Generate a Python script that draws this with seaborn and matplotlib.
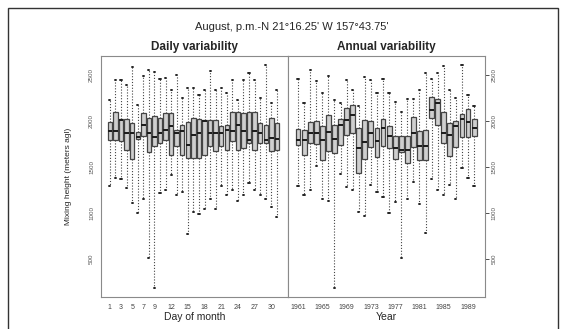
# Mixing height boxplots: daily and annual variability (August, p.m.)

import numpy as np
import pandas as pd
import matplotlib as mpl
mpl.use("Agg")
import matplotlib.pyplot as plt
from matplotlib.patches import Rectangle
import seaborn as sns

# 日ごとの統計量 (min, q1, median, q3, max) [m]
days = list(range(1, 32))
day_min = [1293, 1384, 1366, 1276, 1113, 1000, 1150, 511, 186, 1214, 1250, 1409, 1200, 1229, 771,
           1008, 987, 1041, 1150, 1041, 1290, 1200, 1250, 1131, 1200, 1330, 1250, 1200, 1150, 1063, 954]
day_q1 = [1798, 1798, 1780, 1690, 1590, 1800, 1842, 1661, 1726, 1762, 1798, 1636, 1726, 1636, 1600,
          1600, 1600, 1636, 1726, 1672, 1726, 1690, 1780, 1690, 1710, 1762, 1690, 1762, 1762, 1672, 1690]
day_med = [1888, 1888, 2010, 1870, 1870, 1830, 1961, 1870, 1830, 1870, 1900, 1943, 1870, 1888, 1744,
           1850, 1870, 2005, 1870, 1870, 1870, 1900, 1888, 1961, 1888, 1798, 1888, 1870, 1798, 1820, 1800]
day_q3 = [1986, 2094, 2022, 2022, 1979, 1880, 2087, 2033, 2060, 2033, 2087, 2087, 1907, 1961, 1986,
          2033, 2022, 2015, 2015, 2015, 1943, 1961, 2094, 2094, 2087, 2094, 2094, 1979, 1961, 2033, 1979]
day_max = [2231, 2448, 2448, 2394, 2588, 2177, 2491, 2556, 2534, 2458, 2469, 2339, 2502, 2253, 2361,
           2361, 2285, 2339, 2545, 2339, 2361, 2307, 2448, 2231, 2448, 2523, 2448, 2253, 2610, 2199, 2339]
day_labels = ["1", "3", "5", "7", "9", "12", "15", "18", "21", "24", "27", "30"]

# 年ごとの統計量 (1961-1990)
years = list(range(1961, 1991))
yr_min = [1293, 1200, 1250, 1517, 1150, 1131, 186, 1430, 1280, 1250, 1008, 965, 1311, 1225, 1180,
          998, 1117, 511, 1150, 1333, 1100, 781, 1366, 1250, 1200, 1301, 1150, 1495, 1387, 1300]
yr_q1 = [1744, 1636, 1762, 1755, 1582, 1672, 1654, 1744, 1852, 1870, 1438, 1590, 1719, 1611, 1726,
         1708, 1590, 1661, 1546, 1719, 1582, 1582, 2033, 1961, 1762, 1618, 1719, 1827, 1827, 1834]
yr_med = [1798, 1798, 1870, 1870, 1798, 1877, 1806, 1961, 2015, 2069, 1708, 1769, 1870, 1780, 1925,
          1834, 1708, 1690, 1690, 1870, 1726, 1733, 2123, 2200, 1870, 1852, 1943, 2022, 1986, 1925]
yr_q3 = [1914, 1907, 1986, 2001, 1943, 2069, 1961, 2022, 2141, 2177, 1925, 2015, 2001, 1925, 2022,
         1950, 1834, 1842, 1834, 2044, 1888, 1907, 2267, 2239, 2094, 1979, 2001, 2080, 2130, 2022]
yr_max = [2455, 2195, 2556, 2440, 2303, 2491, 2231, 2195, 2448, 2339, 2159, 2477, 2448, 2303, 2455,
          2303, 2202, 2094, 2239, 2239, 2339, 2523, 2455, 2523, 2599, 2340, 2250, 2610, 2285, 2159]
year_labels = ["1961", "1965", "1969", "1973", "1977", "1981", "1985", "1989"]

y_ticks = [500, 1000, 1500, 2000, 2500]


def long_table(keys, mins, q1s, meds, q3s, maxs, name):
    rows = []
    for k, a, b, c, d, e in zip(keys, mins, q1s, meds, q3s, maxs):
        for v in (a, b, c, d, e):
            rows.append((str(k), v))
    return pd.DataFrame(rows, columns=[name, "height"])


df_day = long_table(days, day_min, day_q1, day_med, day_q3, day_max, "day")
df_year = long_table(years, yr_min, yr_q1, yr_med, yr_q3, yr_max, "year")

sns.set_style("white")
plt.rcParams["font.family"] = ["Liberation Sans", "DejaVu Sans"]

fig = plt.figure(figsize=(5.66, 3.29), dpi=100)
ax1 = fig.add_axes([101 / 566, 1 - 297 / 329, 187 / 566, 241 / 329])
ax2 = fig.add_axes([288 / 566, 1 - 297 / 329, 197 / 566, 241 / 329])

box_kws = dict(
    whis=(0, 100), width=0.8, color="#cfcfcf", linecolor="#454545", linewidth=0.9,
    showfliers=False, capwidths=0.2,
    medianprops=dict(color="#1a1a1a", linewidth=1.4),
    whiskerprops=dict(color="#444444", linestyle=(0, (1, 1.6)), linewidth=0.8),
    capprops=dict(color="#222222", linewidth=1.4),
)
sns.boxplot(data=df_day, x="day", y="height", order=[str(d) for d in days], ax=ax1, **box_kws)
sns.boxplot(data=df_year, x="year", y="height", order=[str(y) for y in years], ax=ax2, **box_kws)

for ax, n, labs, keys in ((ax1, len(days), day_labels, days), (ax2, len(years), year_labels, years)):
    ax.set_ylim(89, 2707)
    ax.set_xticks(range(n))
    ax.set_xticklabels([str(k) if str(k) in labs else "" for k in keys], fontsize=5, color="#444444")
    ax.set_yticks(y_ticks)
    ax.set_yticklabels([str(t) for t in y_ticks], rotation=90, va="center", fontsize=4.5, color="#555555")
    ax.tick_params(axis="both", direction="out", length=3, width=0.6, color="#333333", pad=2)
    for s in ax.spines.values():
        s.set_color("#8a8a8a")
        s.set_linewidth(0.8)
        s.set_visible(True)

ax1.set_xlim(-1.6, 32.0)
ax2.set_xlim(-1.65, 30.8)
ax2.yaxis.tick_right()
ax2.tick_params(axis="y", left=False, right=True)

ax1.set_xlabel("Day of month", fontsize=7.5, labelpad=1)
ax2.set_xlabel("Year", fontsize=7.5, labelpad=1)
ax1.set_ylabel("Mixing height (meters agl)", fontsize=6, labelpad=12)
ax2.set_ylabel("")
ax1.set_title("Daily variability", fontsize=8.5, fontweight="bold", pad=4)
ax2.set_title("Annual variability", fontsize=8.5, fontweight="bold", pad=4)

fig.text(292 / 566, 1 - 27 / 329, "August, p.m.-N 21\u00b016.25' W 157\u00b043.75'",
         ha="center", va="center", fontsize=8)

fig.patches.append(Rectangle((8 / 566, -0.02), 550 / 566, 1 - 8 / 329 + 0.02,
                             transform=fig.transFigure, fill=False, ec="#333333", lw=1.0))

fig.savefig("out.png", dpi=100)
